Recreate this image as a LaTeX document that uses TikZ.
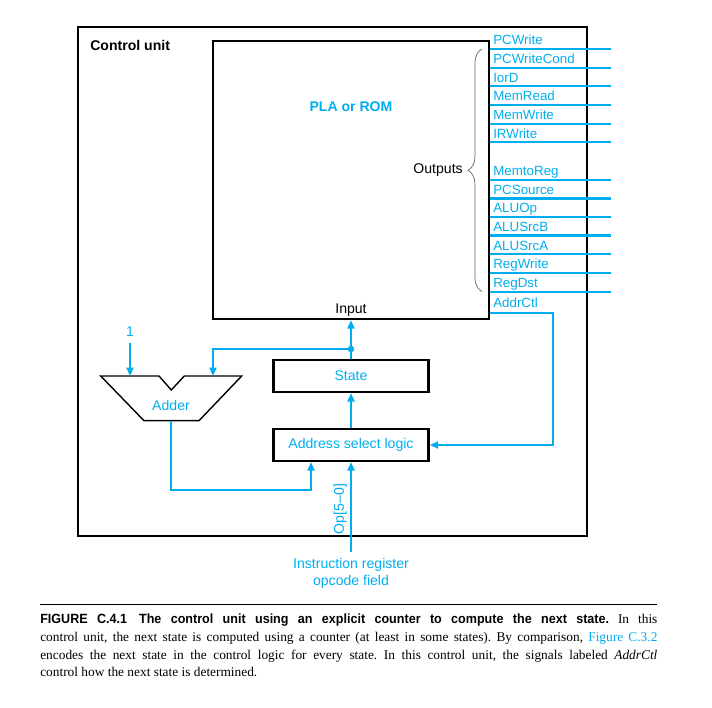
\documentclass[tikz,border=0pt]{standalone}
\usepackage{fontspec}
\setmainfont{Liberation Serif}
\setsansfont{Liberation Sans}
\newfontfamily\headfont[FakeStretch=0.94]{Liberation Sans}
\usepackage{xcolor}
\usepackage{tikz}
\usetikzlibrary{arrows.meta,positioning,decorations.pathreplacing}
\definecolor{wirecyan}{RGB}{0,174,239}

\begin{document}
\begin{tikzpicture}[x=0.025cm, y=-0.025cm,
    blockbox/.style={rectangle, draw, line width=1.6pt, minimum width=3.88cm, minimum height=0.8cm, inner sep=0pt, font=\sffamily\fontsize{10}{12}\selectfont, text=wirecyan},
    wire/.style={wirecyan, line width=1.4pt},
    arr/.style={wire, -{Triangle[length=6pt,width=5pt]}},
    outline/.style={wirecyan, line width=1.3pt},
    wideout/.style={wirecyan, line width=2.4pt},
    sig/.style={anchor=base west, inner sep=0pt, text=wirecyan, font=\sffamily\fontsize{9.5}{11}\selectfont},
    lbl/.style={font=\sffamily\fontsize{10}{12}\selectfont, inner sep=0pt}
]
\useasboundingbox (0,0) rectangle (712,708);

% control unit frame
\node[draw, line width=0.9pt, minimum width=12.725cm, minimum height=12.725cm, inner sep=0pt] (cu) at (332.5,281.5) {};
\node[lbl, font=\sffamily\bfseries\fontsize{10}{12}\selectfont, anchor=west] (cutitle) at (90,45) {Control unit};

% PLA
\node[draw, line width=1.6pt, minimum width=6.9cm, minimum height=6.95cm, inner sep=0pt] (pla) at (351,180) {};
\node[lbl, font=\sffamily\bfseries\fontsize{10}{12}\selectfont, text=wirecyan] (planame) at (351,107) {PLA or ROM};
\node[lbl, above=2.5pt of pla.south] (inlbl) {Input};

% outputs
\node[sig] (pcwrite) at (493,45) {PCWrite};         \coordinate (pcwriteE) at (611,49);
\node[sig] (pcwcond) at (493,63.7) {PCWriteCond};   \coordinate (pcwcondE) at (611,67.7);
\node[sig] (iord) at (493,82.3) {IorD};             \coordinate (iordE) at (611,86.3);
\node[sig] (memread) at (493,101) {MemRead};        \coordinate (memreadE) at (611,105);
\node[sig] (memwrite) at (493,119.6) {MemWrite};    \coordinate (memwriteE) at (611,123.6);
\node[sig] (irwrite) at (493,138.3) {IRWrite};      \coordinate (irwriteE) at (611,142.3);
\node[sig] (memtoreg) at (493,175.6) {MemtoReg};    \coordinate (memtoregE) at (611,179.6);
\node[sig] (pcsource) at (493,194.3) {PCSource};    \coordinate (pcsourceE) at (611,198.3);
\node[sig] (aluop) at (493,212.9) {ALUOp};          \coordinate (aluopE) at (611,216.9);
\node[sig] (alusrcb) at (493,231.6) {ALUSrcB};      \coordinate (alusrcbE) at (611,235.6);
\node[sig] (alusrca) at (493,250.3) {ALUSrcA};      \coordinate (alusrcaE) at (611,254.3);
\node[sig] (regwrite) at (493,268.9) {RegWrite};    \coordinate (regwriteE) at (611,272.9);
\node[sig] (regdst) at (493,287.6) {RegDst};        \coordinate (regdstE) at (611,291.6);
\node[sig] (addrctl) at (493,308) {AddrCtl};

\draw[outline] (pla.east |- pcwriteE) -- (pcwriteE);
\draw[outline] (pla.east |- pcwcondE) -- (pcwcondE);
\draw[outline] (pla.east |- iordE) -- (iordE);
\draw[outline] (pla.east |- memreadE) -- (memreadE);
\draw[outline] (pla.east |- memwriteE) -- (memwriteE);
\draw[outline] (pla.east |- irwriteE) -- (irwriteE);
\draw[outline] (pla.east |- memtoregE) -- (memtoregE);
\draw[wideout] (pla.east |- pcsourceE) -- (pcsourceE);
\draw[outline] (pla.east |- aluopE) -- (aluopE);
\draw[wideout] (pla.east |- alusrcbE) -- (alusrcbE);
\draw[outline] (pla.east |- alusrcaE) -- (alusrcaE);
\draw[outline] (pla.east |- regwriteE) -- (regwriteE);
\draw[outline] (pla.east |- regdstE) -- (regdstE);

\draw[decorate, decoration={brace, amplitude=10pt}, gray!80!black, line width=0.5pt] (482,291.6) -- (482,49);
\node[lbl, anchor=east] (outlbl) at (463,170) {Outputs};

% state and address select logic
\node[blockbox] (state) at (351,376) {State};
\node[blockbox] (asl) at (351,445) {Address select logic};
\coordinate (tap) at (351,349);
\draw[arr] (state) -- (pla);
\fill[wirecyan] (tap) circle (2.3pt);
\draw[arr] (asl) -- (state);

% adder
\coordinate (adA) at (130,376);
\coordinate (adB) at (213,376);
\coordinate (adOut) at (171.3,420.7);
\draw[line width=1pt] (100.7,376) -- (159,376) -- (171.3,390) -- (184.3,376) -- (241.7,376) -- (199,420.7) -- (144,420.7) -- cycle;
\node[lbl, text=wirecyan] (addlbl) at (171,405) {Adder};
\node[lbl, text=wirecyan] (one) at (130,332) {1};
\draw[arr, shorten <=4pt] (one) -- (adA);
\draw[arr] (tap) -| (adB);
\coordinate (fb) at (311,490);
\draw[arr] (adOut) |- (fb) -- (asl.south -| fb);

% AddrCtl feedback
\coordinate (actl) at (553,312.7);
\draw[arr] (pla.east |- actl) -- (actl) |- (asl.east);

% opcode input
\coordinate (opin) at (351,552);
\draw[arr] (opin) -- (asl.south);
\node[lbl, text=wirecyan, rotate=90, anchor=south] (oplbl) at (347,509) {Op[5--0]};
\node[lbl, text=wirecyan, align=center] (irlbl) at (351,573) {Instruction register\\opcode field};

% caption
\coordinate (ruleL) at (40,604);
\coordinate (ruleR) at (657,604);
\draw[line width=0.7pt] (ruleL) -- (ruleR);
\node[anchor=north west, inner sep=0pt, text width=15.425cm, align=justify, font=\fontsize{9.5}{12.5}\selectfont\frenchspacing] (caption) at (40,614)
{{\headfont\bfseries FIGURE C.4.1\hspace{0.9em}The control unit using an explicit counter to compute the next state.} In this\linebreak
control unit, the next state is computed using a counter (at least in some states). By comparison, \textcolor{wirecyan}{Figure C.3.2}\linebreak
encodes the next state in the control logic for every state. In this control unit, the signals labeled \textit{AddrCtl}\linebreak
control how the next state is determined.};
\end{tikzpicture}
\end{document}
